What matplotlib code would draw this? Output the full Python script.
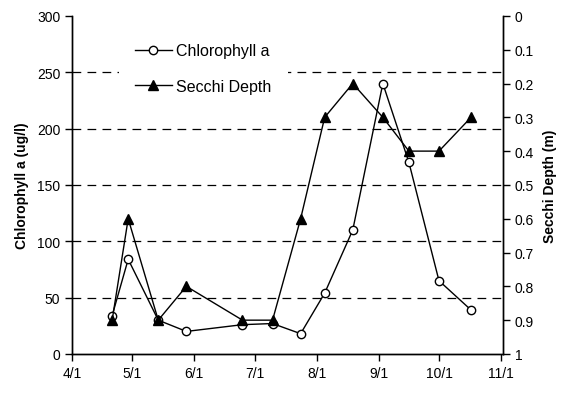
import matplotlib
matplotlib.use("Agg")
import matplotlib.pyplot as plt
import matplotlib.ticker as mticker
import pandas as pd

plt.rcParams['font.family'] = ['Liberation Sans', 'DejaVu Sans']

# sampling dates (month/day)
dates = ['4/21', '4/29', '5/14', '5/28', '6/25', '7/10', '7/24',
         '8/5', '8/19', '9/3', '9/16', '10/1', '10/17']
chlorophyll = [34, 84, 30, 20, 26, 27, 18, 54, 110, 240, 170, 65, 39]
secchi = [0.9, 0.6, 0.9, 0.8, 0.9, 0.9, 0.6, 0.3, 0.2, 0.3, 0.4, 0.4, 0.3]
xtick_labels = ['4/1', '5/1', '6/1', '7/1', '8/1', '9/1', '10/1', '11/1']

x = pd.to_datetime(['2007/' + d for d in dates])
xticks = pd.to_datetime(['2007/' + d for d in xtick_labels])

fig = plt.figure(figsize=(5.81, 4.02), dpi=100)
ax1 = fig.add_axes([0.124, 0.117, 0.742, 0.841])
ax2 = ax1.twinx()

l1, = ax1.plot(x, chlorophyll, color='black', lw=1, marker='o', ms=6,
               mfc='white', mec='black', mew=1, label='Chlorophyll a', zorder=3)
l2, = ax2.plot(x, secchi, color='black', lw=1, marker='^', ms=7,
               mfc='black', mec='black', label='Secchi Depth', zorder=3)

ax1.set_ylim(0, 300)
ax1.set_yticks(range(0, 301, 50))
for yv in range(50, 300, 50):
    ax1.axhline(yv, color='black', lw=0.9, ls=(0, (7, 5)), zorder=1)

ax2.set_ylim(1, 0)
ax2.set_yticks([i / 10 for i in range(11)])
ax2.yaxis.set_major_formatter(mticker.FuncFormatter(lambda v, p: f'{v:g}'))

ax1.set_xlim(xticks[0], pd.Timestamp('2007-11-02'))
ax1.set_xticks(xticks)
ax1.set_xticklabels(xtick_labels)

for ax in (ax1, ax2):
    ax.spines['top'].set_visible(False)
    ax.tick_params(direction='out', length=5, width=1, labelsize=10, colors='black')
    for s in ax.spines.values():
        s.set_linewidth(1)

ax1.set_ylabel('Chlorophyll a (ug/l)', fontsize=10, fontweight='bold', labelpad=6)
ax2.set_ylabel('Secchi Depth (m)', fontsize=10, fontweight='bold', rotation=90, labelpad=6)

leg = ax2.legend(handles=[l1, l2], loc='upper left', bbox_to_anchor=(0.09, 0.99),
                 fontsize=11.5, frameon=True, fancybox=False, framealpha=1,
                 edgecolor='none', facecolor='white', handlelength=2.3,
                 handletextpad=0.3, labelspacing=1.3, borderpad=1.0)
leg.set_zorder(5)

fig.savefig('out.png', dpi=100)
